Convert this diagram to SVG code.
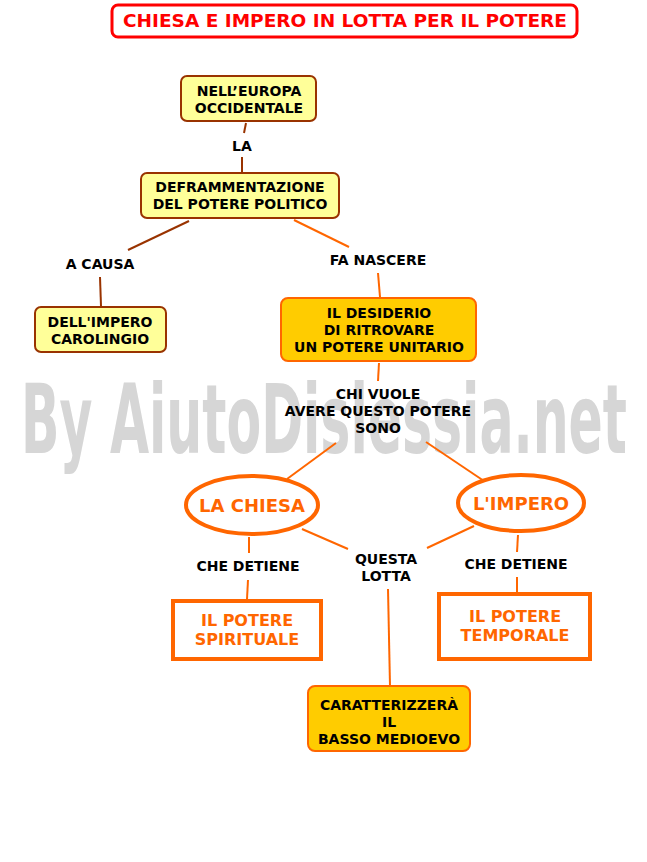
<svg xmlns="http://www.w3.org/2000/svg" width="647" height="862" viewBox="0 0 647 862">
<style>
text{font-family:"DejaVu Sans","Verdana",sans-serif;font-weight:bold;text-anchor:middle}
.t{font-size:14px;fill:#000}
.o{font-size:16px;fill:#ff6600}
.e{font-size:18px;fill:#ff6600}
.y{fill:#ffff99;stroke:#993300;stroke-width:2}
.g{fill:#ffcc00;stroke:#ff6600;stroke-width:2}
.b{fill:#fff;stroke:#ff6600;stroke-width:4}
.lb{stroke:#993300;stroke-width:2;fill:none}
.lo{stroke:#ff6600;stroke-width:2;fill:none}
</style>
<rect width="647" height="862" fill="#fff"/>
<text x="324" y="453" style="font-family:'DejaVu Sans Condensed','DejaVu Sans',sans-serif;font-size:96px;fill:#d6d6d6" textLength="606" lengthAdjust="spacingAndGlyphs">By AiutoDislessia.net</text>
<g id="title">
<rect x="112" y="5" width="465" height="32" rx="6" fill="#fff" stroke="#ff0000" stroke-width="3"/>
<text x="345" y="27" style="font-size:17px;fill:#ff0000" textLength="444" lengthAdjust="spacingAndGlyphs">CHIESA E IMPERO IN LOTTA PER IL POTERE</text>
</g>
<g id="connectors">
<line class="lb" x1="246" y1="123" x2="244" y2="133"/>
<line class="lb" x1="242" y1="157" x2="242" y2="172"/>
<line class="lb" x1="189" y1="221" x2="128" y2="250"/>
<line class="lb" x1="100" y1="277" x2="101" y2="306"/>
<line class="lo" x1="294" y1="220" x2="349" y2="247"/>
<line class="lo" x1="378" y1="273" x2="380" y2="297"/>
<line class="lo" x1="379" y1="363" x2="378" y2="381"/>
<line class="lo" x1="336" y1="443" x2="287" y2="479"/>
<line class="lo" x1="426" y1="442" x2="484" y2="481"/>
<line class="lo" x1="249" y1="537" x2="249" y2="553"/>
<line class="lo" x1="248" y1="580" x2="247" y2="599"/>
<line class="lo" x1="518" y1="535" x2="517" y2="552"/>
<line class="lo" x1="517" y1="577" x2="517" y2="592"/>
<line class="lo" x1="302" y1="529" x2="348" y2="549"/>
<line class="lo" x1="474" y1="526" x2="427" y2="548"/>
<line class="lo" x1="388" y1="589" x2="390" y2="686"/>
</g>
<g id="lbl-la"><text class="t" x="242" y="151">LA</text></g>
<g id="lbl-acausa"><text class="t" x="100" y="269">A CAUSA</text></g>
<g id="lbl-fanascere"><text class="t" x="378" y="265">FA NASCERE</text></g>
<g id="lbl-chivuole"><text class="t" x="378" y="399">CHI VUOLE</text><text class="t" x="378" y="416">AVERE QUESTO POTERE</text><text class="t" x="378" y="433">SONO</text></g>
<g id="lbl-detiene1"><text class="t" x="248" y="571">CHE DETIENE</text></g>
<g id="lbl-detiene2"><text class="t" x="516" y="569">CHE DETIENE</text></g>
<g id="lbl-lotta"><text class="t" x="386" y="564">QUESTA</text><text class="t" x="386" y="581">LOTTA</text></g>
<g id="n-europa">
<rect class="y" x="181" y="76" width="135" height="45" rx="6"/>
<text class="t" x="249" y="96">NELL’EUROPA</text><text class="t" x="249" y="113">OCCIDENTALE</text>
</g>
<g id="n-deframm">
<rect class="y" x="141" y="173" width="198" height="45" rx="6"/>
<text class="t" x="240" y="192">DEFRAMMENTAZIONE</text><text class="t" x="240" y="209">DEL POTERE POLITICO</text>
</g>
<g id="n-carolingio">
<rect class="y" x="35" y="307" width="131" height="45" rx="6"/>
<text class="t" x="100" y="327">DELL'IMPERO</text><text class="t" x="100" y="344">CAROLINGIO</text>
</g>
<g id="n-desiderio">
<rect class="g" x="281" y="298" width="195" height="63" rx="7"/>
<text class="t" x="379" y="318">IL DESIDERIO</text><text class="t" x="379" y="335">DI RITROVARE</text><text class="t" x="379" y="352">UN POTERE UNITARIO</text>
</g>
<g id="n-chiesa">
<ellipse class="b" cx="252" cy="505" rx="66" ry="29"/>
<text class="e" x="252" y="512">LA CHIESA</text>
</g>
<g id="n-impero">
<ellipse class="b" cx="521" cy="503" rx="63" ry="28"/>
<text class="e" x="521" y="510">L'IMPERO</text>
</g>
<g id="n-spirituale">
<rect class="b" x="173" y="601" width="148" height="58"/>
<text class="o" x="247" y="626">IL POTERE</text><text class="o" x="247" y="645">SPIRITUALE</text>
</g>
<g id="n-temporale">
<rect class="b" x="439" y="594" width="151" height="65"/>
<text class="o" x="515" y="622">IL POTERE</text><text class="o" x="515" y="641">TEMPORALE</text>
</g>
<g id="n-basso">
<rect class="g" x="308" y="686" width="162" height="65" rx="7"/>
<text class="t" x="389" y="710">CARATTERIZZERÀ</text><text class="t" x="389" y="727">IL</text><text class="t" x="389" y="744">BASSO MEDIOEVO</text>
</g>
</svg>
